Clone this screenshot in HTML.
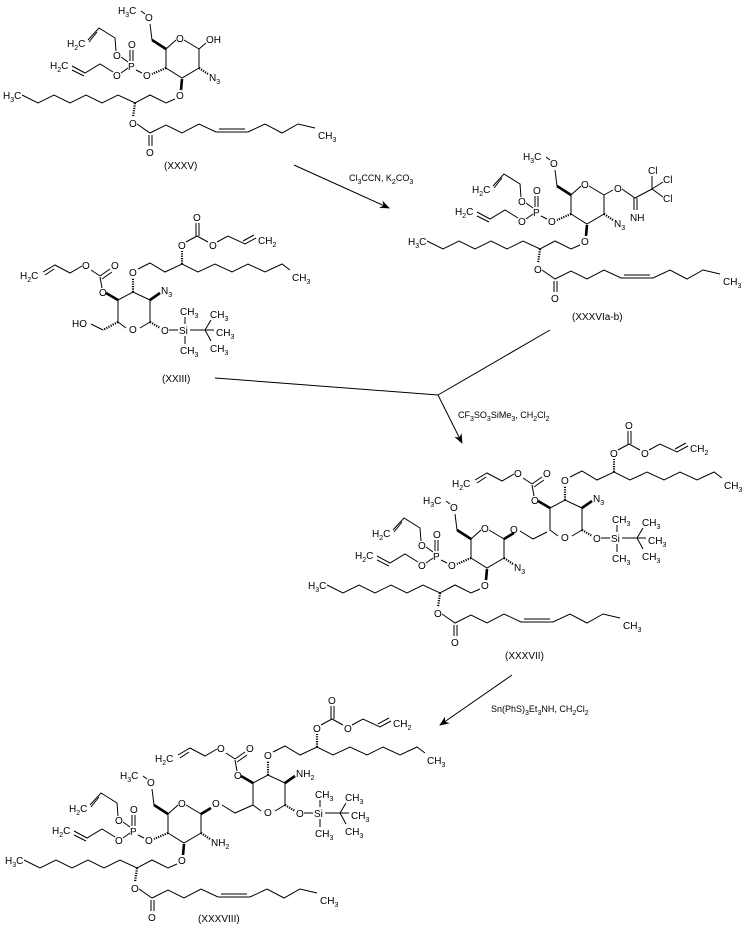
<!DOCTYPE html>
<html><head><meta charset="utf-8">
<style>
html,body{margin:0;padding:0;background:#fff;}
svg{display:block;}
text{font-family:"Liberation Sans",Arial,sans-serif;font-size:10px;fill:#000;}
.s{font-size:7px;}
line,polyline,polygon.r{stroke:#000;stroke-width:1;fill:none;}
.h{stroke-dasharray:1.2,1.2;stroke-width:2.2;}
.w{stroke-width:2.6;}
</style></head><body>
<svg width="755" height="928" viewBox="0 0 755 928" xmlns="http://www.w3.org/2000/svg">
<defs>
<marker id="ah" markerWidth="10" markerHeight="8" refX="9" refY="4" orient="auto" markerUnits="userSpaceOnUse">
<path d="M0,0 L10,4 L0,8 L3,4 Z" fill="#000"/>
</marker>
</defs>

<!-- XXXV -->
<g transform="translate(0,0)">
<text x="3" y="99">H<tspan class="s" dy="3">3</tspan><tspan dy="-3">C</tspan></text>
<polyline points="22,95 38,103 54,95 70,103 86,95 102,103 118,95 135,103 150,95 166,103 175,99"/>
<text x="176" y="99">O</text>
<line class="w" x1="181" y1="90" x2="182" y2="79"/>
<polyline points="184,40 199,49 199,68 182,78 166,68 166,49 176,40"/>
<text x="176" y="42">O</text>
<line x1="199" y1="49" x2="206" y2="43"/><text x="206" y="43">OH</text>
<line class="h" x1="199" y1="68" x2="208" y2="74"/>
<text x="209" y="81">N<tspan class="s" dy="3">3</tspan></text>
<line class="h" x1="166" y1="68" x2="152" y2="74"/>
<text x="143" y="79">O</text>
<line x1="142" y1="73" x2="136" y2="70"/>
<text x="128" y="70">P</text>
<line x1="130" y1="61" x2="130" y2="50"/><line x1="133" y1="61" x2="133" y2="50"/>
<text x="128" y="48">O</text>
<text x="113" y="59">O</text><line x1="121" y1="57" x2="128" y2="62"/>
<text x="113" y="79">O</text><line x1="121" y1="73" x2="128" y2="68"/>
<polyline points="116,51 115,38 99,28 88,40"/><line x1="97" y1="32" x2="89" y2="42"/>
<text x="67" y="47">H<tspan class="s" dy="3">2</tspan><tspan dy="-3">C</tspan></text>
<polyline points="113,72 100,64 85,73 72,66"/><line x1="84" y1="76" x2="72" y2="70"/>
<text x="50" y="69">H<tspan class="s" dy="3">2</tspan><tspan dy="-3">C</tspan></text>
<line class="w" x1="166" y1="49" x2="152" y2="40"/>
<line x1="152" y1="40" x2="150" y2="24"/>
<text x="145" y="21">O</text><line x1="145" y1="14" x2="141" y2="11"/>
<text x="118" y="14">H<tspan class="s" dy="3">3</tspan><tspan dy="-3">C</tspan></text>
<line class="h" x1="135" y1="103" x2="133" y2="117"/>
<text x="129" y="127">O</text>
<polyline points="137,124 150,133 166,125 182,133 199,124 216,132 248,132 265,124 282,133 298,124 315,128"/>
<line x1="219" y1="129" x2="245" y2="129"/>
<line x1="149" y1="135" x2="149" y2="146"/><line x1="152" y1="135" x2="152" y2="146"/>
<text x="146" y="156">O</text>
<text x="318" y="139">CH<tspan class="s" dy="3">3</tspan></text>
</g>
<text x="164" y="169">(XXXV)</text>

<!-- XXXVIa-b -->
<g transform="translate(405,146)">
<text x="3" y="99">H<tspan class="s" dy="3">3</tspan><tspan dy="-3">C</tspan></text>
<polyline points="22,95 38,103 54,95 70,103 86,95 102,103 118,95 135,103 150,95 166,103 175,99"/>
<text x="176" y="99">O</text>
<line class="w" x1="181" y1="90" x2="182" y2="79"/>
<polyline points="184,40 199,49 199,68 182,78 166,68 166,49 176,40"/>
<text x="176" y="42">O</text>
<line x1="199" y1="49" x2="208" y2="44"/>
<text x="209" y="46">O</text>
<polyline points="217,43 230,52 247,43"/>
<line x1="229" y1="52" x2="229" y2="64"/><line x1="232" y1="52" x2="232" y2="64"/>
<text x="225" y="75">NH</text>
<line x1="247" y1="43" x2="247" y2="30"/><text x="243" y="28">Cl</text>
<line x1="247" y1="43" x2="258" y2="36"/><text x="258" y="37">Cl</text>
<line x1="247" y1="43" x2="258" y2="51"/><text x="258" y="56">Cl</text>
<line class="h" x1="199" y1="68" x2="208" y2="74"/>
<text x="209" y="81">N<tspan class="s" dy="3">3</tspan></text>
<line class="h" x1="166" y1="68" x2="152" y2="74"/>
<text x="143" y="79">O</text>
<line x1="142" y1="73" x2="136" y2="70"/>
<text x="128" y="70">P</text>
<line x1="130" y1="61" x2="130" y2="50"/><line x1="133" y1="61" x2="133" y2="50"/>
<text x="128" y="48">O</text>
<text x="113" y="59">O</text><line x1="121" y1="57" x2="128" y2="62"/>
<text x="113" y="79">O</text><line x1="121" y1="73" x2="128" y2="68"/>
<polyline points="116,51 115,38 99,28 88,40"/><line x1="97" y1="32" x2="89" y2="42"/>
<text x="67" y="47">H<tspan class="s" dy="3">2</tspan><tspan dy="-3">C</tspan></text>
<polyline points="113,72 100,64 85,73 72,66"/><line x1="84" y1="76" x2="72" y2="70"/>
<text x="50" y="69">H<tspan class="s" dy="3">2</tspan><tspan dy="-3">C</tspan></text>
<line class="w" x1="166" y1="49" x2="152" y2="40"/>
<line x1="152" y1="40" x2="150" y2="24"/>
<text x="145" y="21">O</text><line x1="145" y1="14" x2="141" y2="11"/>
<text x="118" y="14">H<tspan class="s" dy="3">3</tspan><tspan dy="-3">C</tspan></text>
<line class="h" x1="135" y1="103" x2="133" y2="117"/>
<text x="129" y="127">O</text>
<polyline points="137,124 150,133 166,125 182,133 199,124 216,132 248,132 265,124 282,133 298,124 315,128"/>
<line x1="219" y1="129" x2="245" y2="129"/>
<line x1="149" y1="135" x2="149" y2="146"/><line x1="152" y1="135" x2="152" y2="146"/>
<text x="146" y="156">O</text>
<text x="318" y="139">CH<tspan class="s" dy="3">3</tspan></text>
</g>
<text x="572" y="320">(XXXVIa-b)</text>

<!-- XXXVII left -->
<g transform="translate(305,490)">
<text x="3" y="99">H<tspan class="s" dy="3">3</tspan><tspan dy="-3">C</tspan></text>
<polyline points="22,95 38,103 54,95 70,103 86,95 102,103 118,95 135,103 150,95 166,103 175,99"/>
<text x="176" y="99">O</text>
<line class="w" x1="181" y1="90" x2="182" y2="79"/>
<polyline points="184,40 199,49 199,68 182,78 166,68 166,49 176,40"/>
<text x="176" y="42">O</text>
<line class="w" x1="199" y1="49" x2="209" y2="43"/>
<line class="h" x1="199" y1="68" x2="208" y2="74"/>
<text x="209" y="81">N<tspan class="s" dy="3">3</tspan></text>
<line class="h" x1="166" y1="68" x2="152" y2="74"/>
<text x="143" y="79">O</text>
<line x1="142" y1="73" x2="136" y2="70"/>
<text x="128" y="70">P</text>
<line x1="130" y1="61" x2="130" y2="50"/><line x1="133" y1="61" x2="133" y2="50"/>
<text x="128" y="48">O</text>
<text x="113" y="59">O</text><line x1="121" y1="57" x2="128" y2="62"/>
<text x="113" y="79">O</text><line x1="121" y1="73" x2="128" y2="68"/>
<polyline points="116,51 115,38 99,28 88,40"/><line x1="97" y1="32" x2="89" y2="42"/>
<text x="67" y="47">H<tspan class="s" dy="3">2</tspan><tspan dy="-3">C</tspan></text>
<polyline points="113,72 100,64 85,73 72,66"/><line x1="84" y1="76" x2="72" y2="70"/>
<text x="50" y="69">H<tspan class="s" dy="3">2</tspan><tspan dy="-3">C</tspan></text>
<line class="w" x1="166" y1="49" x2="152" y2="40"/>
<line x1="152" y1="40" x2="150" y2="24"/>
<text x="145" y="21">O</text><line x1="145" y1="14" x2="141" y2="11"/>
<text x="118" y="14">H<tspan class="s" dy="3">3</tspan><tspan dy="-3">C</tspan></text>
<line class="h" x1="135" y1="103" x2="133" y2="117"/>
<text x="129" y="127">O</text>
<polyline points="137,124 150,133 166,125 182,133 199,124 216,132 248,132 265,124 282,133 298,124 315,128"/>
<line x1="219" y1="129" x2="245" y2="129"/>
<line x1="149" y1="135" x2="149" y2="146"/><line x1="152" y1="135" x2="152" y2="146"/>
<text x="146" y="156">O</text>
<text x="318" y="139">CH<tspan class="s" dy="3">3</tspan></text>
</g>
<text x="510" y="533">O</text>
<polyline points="520,531 533,539 547,532"/>
<text x="505" y="659">(XXXVII)</text>

<!-- XXXVIII left -->
<g transform="translate(2,765)">
<text x="3" y="99">H<tspan class="s" dy="3">3</tspan><tspan dy="-3">C</tspan></text>
<polyline points="22,95 38,103 54,95 70,103 86,95 102,103 118,95 135,103 150,95 166,103 175,99"/>
<text x="176" y="99">O</text>
<line class="w" x1="181" y1="90" x2="182" y2="79"/>
<polyline points="184,40 199,49 199,68 182,78 166,68 166,49 176,40"/>
<text x="176" y="42">O</text>
<line class="w" x1="199" y1="49" x2="209" y2="43"/>
<line class="h" x1="199" y1="68" x2="208" y2="74"/>
<text x="209" y="81">NH<tspan class="s" dy="3">2</tspan></text>
<line class="h" x1="166" y1="68" x2="152" y2="74"/>
<text x="143" y="79">O</text>
<line x1="142" y1="73" x2="136" y2="70"/>
<text x="128" y="70">P</text>
<line x1="130" y1="61" x2="130" y2="50"/><line x1="133" y1="61" x2="133" y2="50"/>
<text x="128" y="48">O</text>
<text x="113" y="59">O</text><line x1="121" y1="57" x2="128" y2="62"/>
<text x="113" y="79">O</text><line x1="121" y1="73" x2="128" y2="68"/>
<polyline points="116,51 115,38 99,28 88,40"/><line x1="97" y1="32" x2="89" y2="42"/>
<text x="67" y="47">H<tspan class="s" dy="3">2</tspan><tspan dy="-3">C</tspan></text>
<polyline points="113,72 100,64 85,73 72,66"/><line x1="84" y1="76" x2="72" y2="70"/>
<text x="50" y="69">H<tspan class="s" dy="3">2</tspan><tspan dy="-3">C</tspan></text>
<line class="w" x1="166" y1="49" x2="152" y2="40"/>
<line x1="152" y1="40" x2="150" y2="24"/>
<text x="145" y="21">O</text><line x1="145" y1="14" x2="141" y2="11"/>
<text x="118" y="14">H<tspan class="s" dy="3">3</tspan><tspan dy="-3">C</tspan></text>
<line class="h" x1="135" y1="103" x2="133" y2="117"/>
<text x="129" y="127">O</text>
<polyline points="137,124 150,133 166,125 182,133 199,124 216,132 248,132 265,124 282,133 298,124 315,128"/>
<line x1="219" y1="129" x2="245" y2="129"/>
<line x1="149" y1="135" x2="149" y2="146"/><line x1="152" y1="135" x2="152" y2="146"/>
<text x="146" y="156">O</text>
<text x="318" y="139">CH<tspan class="s" dy="3">3</tspan></text>
</g>
<text x="212" y="807">O</text>
<polyline points="222,805 235,813 253,805"/>
<text x="198" y="922">(XXXVIII)</text>

<!-- XXIII -->
<g transform="translate(0,0)">
<polyline points="126,328 118,322 118,300 133,292 150,300 150,322 140,328"/>
<text x="129" y="333">O</text>
<line class="w" x1="118" y1="300" x2="106" y2="293"/>
<text x="99" y="296">O</text>
<line x1="102" y1="288" x2="100" y2="277"/>
<line x1="100" y1="276" x2="110" y2="269"/><line x1="102" y1="279" x2="112" y2="272"/>
<text x="111" y="269">O</text>
<line x1="100" y1="276" x2="91" y2="270"/>
<text x="82" y="269">O</text>
<polyline points="82,266 70,273 55,265 43,272"/><line x1="54" y1="269" x2="45" y2="275"/>
<text x="20" y="279">H<tspan class="s" dy="3">2</tspan><tspan dy="-3">C</tspan></text>
<line class="h" x1="133" y1="292" x2="133" y2="278"/>
<text x="129" y="276">O</text>
<polyline points="138,269 150,263 165,272 182,264 198,272 215,264 232,272 248,264 265,272 282,264 290,270"/>
<text x="292" y="281">CH<tspan class="s" dy="3">3</tspan></text>
<line class="h" x1="182" y1="264" x2="182" y2="251"/>
<text x="178" y="249">O</text>
<line x1="186" y1="242" x2="197" y2="236"/>
<line x1="196" y1="236" x2="196" y2="223"/><line x1="199" y1="236" x2="199" y2="223"/>
<text x="193" y="221">O</text>
<line x1="197" y1="236" x2="208" y2="242"/>
<text x="209" y="249">O</text>
<polyline points="217,242 228,236 245,244 256,238"/><line x1="243" y1="241" x2="254" y2="235"/>
<text x="258" y="244">CH<tspan class="s" dy="3">2</tspan></text>
<line class="w" x1="150" y1="300" x2="160" y2="293"/>
<text x="161" y="294">N<tspan class="s" dy="3">3</tspan></text>
<line class="h" x1="118" y1="322" x2="103" y2="330"/>
<line x1="103" y1="330" x2="91" y2="324"/>
<text x="72" y="327">HO</text>
<line class="h" x1="150" y1="322" x2="160" y2="328"/>
<text x="161" y="334">O</text>
<line x1="169" y1="330" x2="178" y2="330"/>
<text x="179" y="334">Si</text>
<line x1="190" y1="330" x2="214" y2="330"/>
<text x="216" y="336">CH<tspan class="s" dy="3">3</tspan></text>
<line x1="205" y1="330" x2="211" y2="320"/><text x="210" y="318">CH<tspan class="s" dy="3">3</tspan></text>
<line x1="205" y1="330" x2="211" y2="341"/><text x="210" y="352">CH<tspan class="s" dy="3">3</tspan></text>
<line x1="185" y1="324" x2="185" y2="317"/><text x="180" y="315">CH<tspan class="s" dy="3">3</tspan></text>
<line x1="185" y1="336" x2="185" y2="344"/><text x="180" y="354">CH<tspan class="s" dy="3">3</tspan></text>
</g>
<text x="162" y="382">(XXIII)</text>

<!-- XXXVII right -->
<g transform="translate(432,208)">
<polyline points="126,328 118,322 118,300 133,292 150,300 150,322 140,328"/>
<text x="129" y="333">O</text>
<line class="w" x1="118" y1="300" x2="106" y2="293"/>
<text x="99" y="296">O</text>
<line x1="102" y1="288" x2="100" y2="277"/>
<line x1="100" y1="276" x2="110" y2="269"/><line x1="102" y1="279" x2="112" y2="272"/>
<text x="111" y="269">O</text>
<line x1="100" y1="276" x2="91" y2="270"/>
<text x="82" y="269">O</text>
<polyline points="82,266 70,273 55,265 43,272"/><line x1="54" y1="269" x2="45" y2="275"/>
<text x="20" y="279">H<tspan class="s" dy="3">2</tspan><tspan dy="-3">C</tspan></text>
<line class="h" x1="133" y1="292" x2="133" y2="278"/>
<text x="129" y="276">O</text>
<polyline points="138,269 150,263 165,272 182,264 198,272 215,264 232,272 248,264 265,272 282,264 290,270"/>
<text x="292" y="281">CH<tspan class="s" dy="3">3</tspan></text>
<line class="h" x1="182" y1="264" x2="182" y2="251"/>
<text x="178" y="249">O</text>
<line x1="186" y1="242" x2="197" y2="236"/>
<line x1="196" y1="236" x2="196" y2="223"/><line x1="199" y1="236" x2="199" y2="223"/>
<text x="193" y="221">O</text>
<line x1="197" y1="236" x2="208" y2="242"/>
<text x="209" y="249">O</text>
<polyline points="217,242 228,236 245,244 256,238"/><line x1="243" y1="241" x2="254" y2="235"/>
<text x="258" y="244">CH<tspan class="s" dy="3">2</tspan></text>
<line class="w" x1="150" y1="300" x2="160" y2="293"/>
<text x="161" y="294">N<tspan class="s" dy="3">3</tspan></text>
<line class="h" x1="150" y1="322" x2="160" y2="328"/>
<text x="161" y="334">O</text>
<line x1="169" y1="330" x2="178" y2="330"/>
<text x="179" y="334">Si</text>
<line x1="190" y1="330" x2="214" y2="330"/>
<text x="216" y="336">CH<tspan class="s" dy="3">3</tspan></text>
<line x1="205" y1="330" x2="211" y2="320"/><text x="210" y="318">CH<tspan class="s" dy="3">3</tspan></text>
<line x1="205" y1="330" x2="211" y2="341"/><text x="210" y="352">CH<tspan class="s" dy="3">3</tspan></text>
<line x1="185" y1="324" x2="185" y2="317"/><text x="180" y="315">CH<tspan class="s" dy="3">3</tspan></text>
<line x1="185" y1="336" x2="185" y2="344"/><text x="180" y="354">CH<tspan class="s" dy="3">3</tspan></text>
</g>

<!-- XXXVIII right -->
<g transform="translate(135,483)">
<polyline points="126,328 118,322 118,300 133,292 150,300 150,322 140,328"/>
<text x="129" y="333">O</text>
<line class="w" x1="118" y1="300" x2="106" y2="293"/>
<text x="99" y="296">O</text>
<line x1="102" y1="288" x2="100" y2="277"/>
<line x1="100" y1="276" x2="110" y2="269"/><line x1="102" y1="279" x2="112" y2="272"/>
<text x="111" y="269">O</text>
<line x1="100" y1="276" x2="91" y2="270"/>
<text x="82" y="269">O</text>
<polyline points="82,266 70,273 55,265 43,272"/><line x1="54" y1="269" x2="45" y2="275"/>
<text x="20" y="279">H<tspan class="s" dy="3">2</tspan><tspan dy="-3">C</tspan></text>
<line class="h" x1="133" y1="292" x2="133" y2="278"/>
<text x="129" y="276">O</text>
<polyline points="138,269 150,263 165,272 182,264 198,272 215,264 232,272 248,264 265,272 282,264 290,270"/>
<text x="292" y="281">CH<tspan class="s" dy="3">3</tspan></text>
<line class="h" x1="182" y1="264" x2="182" y2="251"/>
<text x="178" y="249">O</text>
<line x1="186" y1="242" x2="197" y2="236"/>
<line x1="196" y1="236" x2="196" y2="223"/><line x1="199" y1="236" x2="199" y2="223"/>
<text x="193" y="221">O</text>
<line x1="197" y1="236" x2="208" y2="242"/>
<text x="209" y="249">O</text>
<polyline points="217,242 228,236 245,244 256,238"/><line x1="243" y1="241" x2="254" y2="235"/>
<text x="258" y="244">CH<tspan class="s" dy="3">2</tspan></text>
<line class="w" x1="150" y1="300" x2="160" y2="293"/>
<text x="161" y="294">NH<tspan class="s" dy="3">2</tspan></text>
<line class="h" x1="150" y1="322" x2="160" y2="328"/>
<text x="161" y="334">O</text>
<line x1="169" y1="330" x2="178" y2="330"/>
<text x="179" y="334">Si</text>
<line x1="190" y1="330" x2="214" y2="330"/>
<text x="216" y="336">CH<tspan class="s" dy="3">3</tspan></text>
<line x1="205" y1="330" x2="211" y2="320"/><text x="210" y="318">CH<tspan class="s" dy="3">3</tspan></text>
<line x1="205" y1="330" x2="211" y2="341"/><text x="210" y="352">CH<tspan class="s" dy="3">3</tspan></text>
<line x1="185" y1="324" x2="185" y2="317"/><text x="180" y="315">CH<tspan class="s" dy="3">3</tspan></text>
<line x1="185" y1="336" x2="185" y2="344"/><text x="180" y="354">CH<tspan class="s" dy="3">3</tspan></text>
</g>

<!-- Arrows -->
<line x1="294" y1="165" x2="389" y2="208" marker-end="url(#ah)"/>
<text x="349" y="181" style="font-size:9px">Cl<tspan class="s" dy="3">3</tspan><tspan dy="-3">CCN, K</tspan><tspan class="s" dy="3">2</tspan><tspan dy="-3">CO</tspan><tspan class="s" dy="3">3</tspan></text>

<line x1="215" y1="378" x2="438" y2="395"/>
<line x1="550" y1="330" x2="438" y2="395"/>
<line x1="438" y1="395" x2="462" y2="443" marker-end="url(#ah)"/>
<text x="458" y="418" style="font-size:9px">CF<tspan class="s" dy="3">3</tspan><tspan dy="-3">SO</tspan><tspan class="s" dy="3">3</tspan><tspan dy="-3">SiMe</tspan><tspan class="s" dy="3">3</tspan><tspan dy="-3">, CH</tspan><tspan class="s" dy="3">2</tspan><tspan dy="-3">Cl</tspan><tspan class="s" dy="3">2</tspan></text>

<line x1="512" y1="675" x2="440" y2="725" marker-end="url(#ah)"/>
<text x="491" y="712" style="font-size:9px">Sn(PhS)<tspan class="s" dy="3">3</tspan><tspan dy="-3">Et</tspan><tspan class="s" dy="3">3</tspan><tspan dy="-3">NH, CH</tspan><tspan class="s" dy="3">2</tspan><tspan dy="-3">Cl</tspan><tspan class="s" dy="3">2</tspan></text>
</svg>
</body></html>
